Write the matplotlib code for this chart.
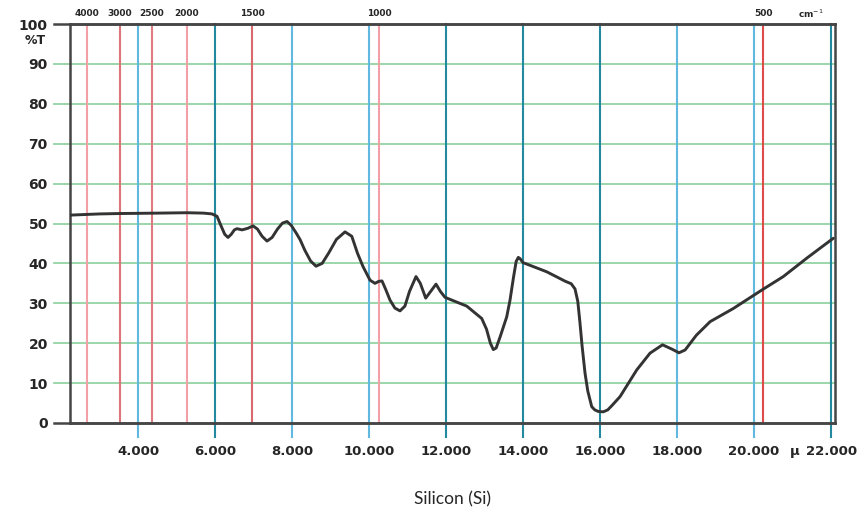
import matplotlib
matplotlib.use("Agg")
import matplotlib.pyplot as plt

# ---------------- data ----------------
# wavelength (micrometres) and transmission (%T)
wavelength_um = [2.231, 3.0, 3.53, 4.5, 5.27, 5.7, 5.92, 6.05, 6.15, 6.25, 6.335, 6.42, 6.5,
                 6.57, 6.7, 6.85, 6.985, 7.1, 7.22, 7.348, 7.48, 7.62, 7.75, 7.868, 7.98,
                 8.1, 8.205, 8.33, 8.48, 8.621, 8.78, 8.95, 9.15, 9.374, 9.55, 9.7, 9.842,
                 10.023, 10.153, 10.25, 10.335, 10.43, 10.543, 10.67, 10.803, 10.93, 11.05,
                 11.218, 11.33, 11.47, 11.6, 11.738, 11.85, 11.971, 12.2, 12.535, 12.925,
                 13.05, 13.15, 13.226, 13.3, 13.4, 13.574, 13.66, 13.75, 13.82, 13.875,
                 13.92, 13.997, 14.613, 15.1, 15.25, 15.348, 15.42, 15.478, 15.53, 15.608,
                 15.68, 15.782, 15.86, 15.95, 16.083, 16.2, 16.3, 16.517, 16.951,
                 17.296, 17.621, 17.868, 18.049, 18.208, 18.5, 18.857, 19.46, 20.197,
                 20.758, 21.366, 22.057]
transmission = [52.1, 52.4, 52.5, 52.6, 52.7, 52.6, 52.4, 51.8, 49.5, 47.3, 46.5, 47.3, 48.4,
                48.7, 48.4, 48.8, 49.4, 48.6, 46.8, 45.6, 46.5, 48.6, 50.1, 50.5, 49.5,
                47.7, 46.0, 43.3, 40.6, 39.3, 40.0, 42.6, 46.0, 47.9, 46.8, 42.5, 39.2,
                35.8, 35.0, 35.5, 35.6, 33.5, 30.8, 28.8, 28.1, 29.3, 33.0,
                36.7, 35.0, 31.3, 33.0, 34.8, 33.0, 31.5, 30.6, 29.3, 26.2,
                23.5, 20.0, 18.4, 18.8, 21.5, 26.6, 30.8, 36.5, 40.5, 41.5,
                41.2, 40.2, 37.9, 35.5, 34.9, 33.6, 30.5, 25.0, 19.5, 12.5,
                8.0, 4.1, 3.3, 2.9, 2.8, 3.3, 4.3, 6.6, 13.3,
                17.5, 19.6, 18.5, 17.6, 18.3, 22.0, 25.4, 28.7, 33.3,
                36.7, 41.3, 46.3]

# micrometre ticks (blue lines)
um_ticks = [4, 6, 8, 10, 12, 14, 16, 18, 20, 22]
um_tick_labels = ["4.000", "6.000", "8.000", "10.000", "12.000", "14.000",
                  "16.000", "18.000", "20.000", "22.000"]
# wavenumber marks (red lines), positions as drawn in the chart (um)
wn_positions_um = [2.673, 3.530, 4.361, 5.270, 6.958, 10.257, 20.239]
wn_labels = ["4000", "3000", "2500", "2000", "1500", "1000", "500"]
# %T ticks
t_ticks = [0, 10, 20, 30, 40, 50, 60, 70, 80, 90, 100]
t_tick_labels = [str(v) for v in t_ticks]

title = "Silicon (Si)"

# ---------------- styles ----------------
blue_light = "#62b9e0"
blue_dark = "#23899f"
blue_colors = [blue_light, blue_dark, blue_light, blue_light, blue_dark,
               blue_dark, blue_dark, blue_light, blue_light, blue_dark]
red_colors = ["#f2a0a6", "#dc747a", "#de7a80", "#f2a0a6", "#d9686f", "#f2a0a6", "#df4a4a"]
green = "#93d3a2"
frame = "#454545"
curve_color = "#333333"
text_color = "#262626"

fig = plt.figure(figsize=(8.66, 5.12), dpi=100)
ax = fig.add_axes([70 / 866, 89 / 512, 765 / 866, 399 / 512])
ax.set_xlim(2.231, 22.101)
ax.set_ylim(0, 100)

ext_x = 16 / 765   # grid lines stick out left of the frame
ext_y = 14 / 399   # blue lines stick out below the frame

# green horizontal grid lines
for t in t_ticks[1:-1]:
    ax.axhline(t, xmin=-ext_x, xmax=1, color=green, lw=1.3, clip_on=False, zorder=1)
for t in (t_ticks[0], t_ticks[-1]):
    ax.axhline(t, xmin=-ext_x, xmax=1, color=frame, lw=1.8, clip_on=False, zorder=4)

# blue micrometre lines
for x, c in zip(um_ticks, blue_colors):
    ax.axvline(x, ymin=-ext_y, ymax=1, color=c, lw=1.5, clip_on=False, zorder=2)

# red wavenumber lines
for x, c in zip(wn_positions_um, red_colors):
    ax.axvline(x, ymin=0, ymax=1, color=c, lw=1.5, zorder=2)

# curve
ax.plot(wavelength_um, transmission, color=curve_color, lw=2.1, zorder=5,
        solid_capstyle="round", solid_joinstyle="round")

for s in ax.spines.values():
    s.set_color(frame)
    s.set_linewidth(1.8)
    s.set_zorder(4)

ax.set_xticks(um_ticks)
ax.set_xticklabels(um_tick_labels, fontsize=9.5, fontweight="bold", color=text_color,
                   family="DejaVu Sans")
ax.set_yticks(t_ticks)
ax.set_yticklabels(t_tick_labels, fontsize=10, fontweight="bold", color=text_color,
                   family="DejaVu Sans")
ax.tick_params(axis="x", length=0, pad=16)
ax.tick_params(axis="y", length=0, pad=16)

# mu sign before 22.000
ax.annotate("μ", xy=(um_ticks[-1], 0), xycoords="data", xytext=(-31, -29),
            textcoords="offset pixels", ha="right", va="center",
            fontsize=9.5, fontweight="bold", color=text_color)

# %T label
ax.annotate("%T", xy=(ax.get_xlim()[0], t_ticks[-1]), xycoords="data", xytext=(-24, -16),
            textcoords="offset pixels", ha="right", va="center",
            fontsize=9, fontweight="bold", color=text_color)

# top wavenumber labels
for x, lab in zip(wn_positions_um, wn_labels):
    ax.annotate(lab, xy=(x, t_ticks[-1]), xycoords="data", xytext=(0, 10),
                textcoords="offset pixels", ha="center", va="center",
                fontsize=6.5, fontweight="bold", color=text_color)
ax.annotate("cm$^{-1}$", xy=(wn_positions_um[-1], t_ticks[-1]), xycoords="data",
            xytext=(47, 10), textcoords="offset pixels", ha="center", va="center",
            fontsize=6.5, fontweight="bold", color=text_color)

fig.text((70 + 765 / 2) / 866, 13 / 512, title, ha="center", va="center",
         fontsize=12.5, family="Lato", color=text_color)

fig.savefig("out.png", dpi=100, facecolor="white")
